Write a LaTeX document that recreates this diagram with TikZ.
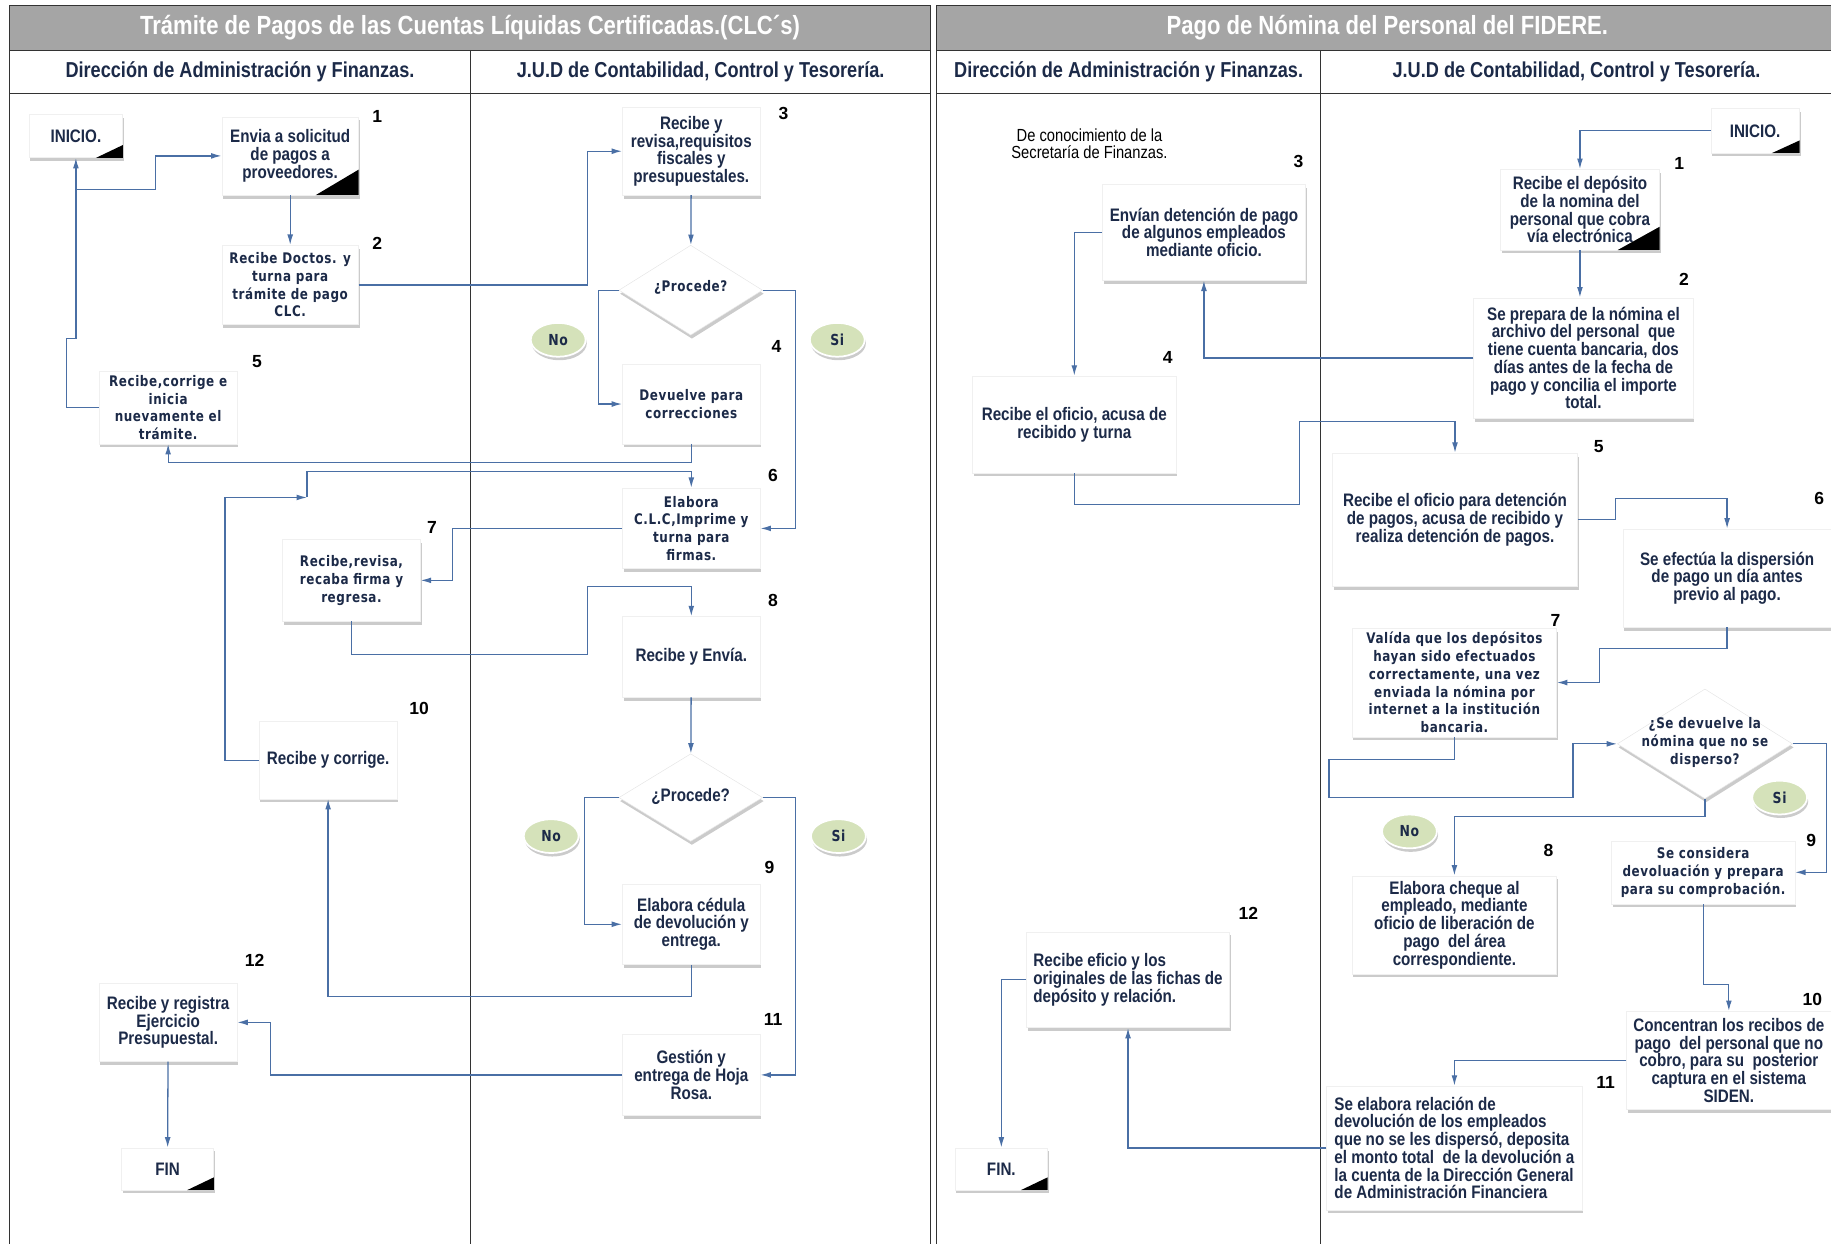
\documentclass[tikz,border=0pt]{standalone}
\usepackage{fontspec}
\setmainfont{Liberation Sans}
\newfontfamily\narrowf[FakeStretch=0.84]{Liberation Sans}
\newfontfamily\widef[FakeStretch=0.82,LetterSpace=4]{DejaVu Sans}
\usetikzlibrary{arrows.meta,shapes.geometric,shadows}
\definecolor{navy}{HTML}{1C2A48}
\definecolor{flowblue}{HTML}{4A6FA5}
\definecolor{headgray}{HTML}{A5A5A5}
\definecolor{okgreen}{HTML}{D5E2BA}
\tikzset{
  softshadow/.style={drop shadow={shadow xshift=1pt,shadow yshift=-3pt,fill=black!45,opacity=0.45}},
  box/.style 2 args={fill=white,draw=black!6,inner sep=1pt,align=center,text=navy,
    minimum width=#1pt,minimum height=#2pt,softshadow},
  nt/.style={font=\narrowf\bfseries\fontsize{15.5}{15.2}\selectfont},
  wt/.style={font=\widef\bfseries\fontsize{12.5}{15.2}\selectfont},
  dia/.style 2 args={diamond,fill=white,draw=black!10,inner sep=0pt,minimum width=#1pt,minimum height=#2pt,softshadow},
  answer/.style={ellipse,fill=okgreen,draw=white,line width=1.5pt,minimum width=47pt,minimum height=29pt,
    inner sep=0pt,text=navy,font=\widef\bfseries\fontsize{13}{13}\selectfont,softshadow},
  num/.style={font=\bfseries\fontsize{15}{15}\selectfont,text=black},
  note/.style={align=center,text=black,font=\narrowf\fontsize{15}{15.2}\selectfont},
  headtext/.style={text=white,font=\narrowf\bfseries\fontsize{22.5}{22.5}\selectfont},
  lanetext/.style={text=navy,font=\narrowf\bfseries\fontsize{18.5}{18.5}\selectfont},
  lane/.style={draw=black!80,line width=1pt},
  flow/.style={draw=flowblue,line width=1.1pt,-{Latex[length=9pt,width=5pt]}},
  corner/.style={fill=black},
}
\begin{document}
\begin{tikzpicture}[x=1pt,y=-1pt]
  \useasboundingbox (0,0) rectangle (1568,1065);
  % marcos de los dos procedimientos
  \fill[headgray] (8,5) rectangle (797,43);
  \fill[headgray] (802,5) rectangle (1575,43);
  \draw[lane] (8,5) rectangle (797,43);
  \draw[lane] (802,5) rectangle (1575,43);
  \draw[lane] (8,43) -- (8,1070) (797,43) -- (797,1070) (8,80) -- (797,80) (403,43) -- (403,1070);
  \draw[lane] (802,43) -- (802,1070) (802,80) -- (1575,80) (1131,43) -- (1131,1070);
  \path
    (402.5,24) node[headtext] (t1) {Trámite de Pagos de las Cuentas Líquidas Certificadas.(CLC´s)}
    (1188,24) node[headtext] (t2) {Pago de Nómina del Personal del FIDERE.}
    (205.5,61.5) node[lanetext] (l1) {Dirección de Administración y Finanzas.}
    (600,61.5) node[lanetext] (l2) {J.U.D de Contabilidad, Control y Tesorería.}
    (966.5,61.5) node[lanetext] (l3) {Dirección de Administración y Finanzas.}
    (1350,61.5) node[lanetext] (l4) {J.U.D de Contabilidad, Control y Tesorería.};
  % CLC
  \path
    (65,116.5) node[box={80}{37},nt] (a0) {INICIO.}
    (248.5,133.5) node[box={117}{67},nt] (a1) {Envia a solicitud\\de pagos a\\proveedores.}
    (248.5,244) node[box={117}{68},wt] (a2) {Recibe Doctos. y\\turna para\\trámite de pago\\CLC.}
    (592,129.5) node[box={118}{75},nt] (a3) {Recibe y\\revisa,requisitos\\fiscales y\\presupuestales.}
    (591.5,248.5) node[dia={123}{77}] (d1) {}
    (592,346) node[box={118}{68},wt] (a4) {Devuelve para\\correcciones}
    (144,349) node[box={118}{62},wt] (a5) {Recibe,corrige e\\inicia\\nuevamente el\\trámite.}
    (592,452.5) node[box={118}{69},wt] (a6) {Elabora\\C.L.C,Imprime y\\turna para\\firmas.}
    (301,497) node[box={118}{70},wt] (a7) {Recibe,revisa,\\recaba firma y\\regresa.}
    (592,562.5) node[box={118}{69},nt] (a8) {Recibe y Envía.}
    (591.5,683) node[dia={123}{75}] (d2) {}
    (592,791.5) node[box={118}{69},nt] (a9) {Elabora cédula\\de devolución y\\entrega.}
    (281,651) node[box={118}{66},nt] (a10) {Recibe y corrige.}
    (592,920.5) node[box={118}{69},nt] (a11) {Gestión y\\entrega de Hoja\\Rosa.}
    (144,875.5) node[box={118}{67},nt] (a12) {Recibe y registra\\Ejercicio\\Presupuestal.}
    (143.5,1001) node[box={79}{36},nt] (a13) {FIN};
  \path
    (591.5,246) node[wt,text=navy] (q1) {¿Procede?}
    (591.5,682) node[nt,text=navy] (q2) {¿Procede?}
    (478,291) node[answer] (no1) {No}
    (717,291) node[answer] (si1) {Si}
    (472,716) node[answer] (no2) {No}
    (718,716) node[answer] (si2) {Si};
  \path
    (323,100) node[num] (na1) {1}
    (323,208) node[num] (na2) {2}
    (671,97) node[num] (na3) {3}
    (665,297) node[num] (na4) {4}
    (220,310) node[num] (na5) {5}
    (662,407) node[num] (na6) {6}
    (370,452) node[num] (na7) {7}
    (662,514) node[num] (na8) {8}
    (659,743) node[num] (na9) {9}
    (359,607) node[num] (na10) {10}
    (662,873) node[num] (na11) {11}
    (218,822) node[num] (na12) {12};
  \fill[corner] (a0.south east) -- ++(0,-11) -- ++(-23,11) -- cycle;
  \fill[corner] (a1.south east) -- ++(0,-22) -- ++(-37,22) -- cycle;
  \fill[corner] (a13.south east) -- ++(0,-11) -- ++(-23,11) -- cycle;
  \coordinate (j0) at (65,162);
  \coordinate (j1) at (263,426);
  \begin{scope}[flow]
    \draw (a5.west) -- ++(-28,0) |- (65,290) -- (a0.south);
    \draw (j0) -| (133,133.5) -- (a1.west);
    \draw (a1) -- (a2);
    \draw (a2.east) -- ++(196,0) |- (a3.west);
    \draw (a3) -- (d1);
    \draw (d1.west) -- ++(-17,0) |- (a4.west);
    \draw (a4.south) -- ++(0,16) -| (a5.south);
    \draw (d1.east) -- ++(28,0) |- (a6.east);
    \draw (a10.west) -- ++(-29,0) |- (j1);
    \draw (j1) -- ++(0,-22) -| (a6.north);
    \draw (a6.west) -- ++(-145,0) |- (a7.east);
    \draw (a7.south) -- ++(0,28) -| (503,502) -| (a8.north);
    \draw (a8) -- (d2);
    \draw (d2.west) -- ++(-29,0) |- (a9.west);
    \draw (a9.south) -- ++(0,27) -| (a10.south);
    \draw (d2.east) -- ++(28,0) |- (a11.east);
    \draw (a11.west) -- ++(-301,0) |- (a12.east);
    \draw (a12) -- (a13);
  \end{scope}
  % nomina
  \path
    (933,123) node[note] (m0) {De conocimiento de la\\Secretaría de Finanzas.}
    (1503,112) node[box={76}{38},nt] (b0) {INICIO.}
    (1353,179.5) node[box={136}{69},nt] (b1) {Recibe el depósito\\de la nomina del\\personal que cobra\\vía electrónica}
    (1356,306.5) node[box={188}{103},nt] (b2) {Se prepara de la nómina el\\archivo del personal~ que\\tiene cuenta bancaria, dos\\días antes de la fecha de\\pago y concilia el importe\\total.}
    (1031,199) node[box={174}{82},nt] (b3) {Envían detención de pago\\de algunos empleados\\mediante oficio.}
    (920,363.5) node[box={174}{83},nt] (b4) {Recibe el oficio, acusa de\\recibido y turna}
    (1246,445) node[box={210}{114},nt] (b5) {Recibe el oficio para detención\\de pagos, acusa de recibido y\\realiza detención de pagos.}
    (1479,495) node[box={178}{84},nt] (b6) {Se efectúa la dispersión\\de pago un día antes\\previo al pago.}
    (1245.5,584.5) node[box={175}{93},wt] (b7) {Valída que los depósitos\\hayan sido efectuados\\correctamente, una vez\\enviada la nómina por\\internet a la institución\\bancaria.}
    (1460,637) node[dia={150}{94}] (d3) {}
    (1245.5,792) node[box={175}{84},nt] (b8) {Elabora cheque al\\empleado, mediante\\oficio de liberación de\\pago~ del área\\correspondiente.}
    (1458.5,747) node[box={157}{54},wt] (b9) {Se considera\\devoluación y prepara\\para su comprobación.}
    (1480.5,908) node[box={175}{84},nt] (b10) {Concentran los recibos de\\pago~ del personal que no\\cobro, para su~ posterior\\captura en el sistema\\SIDEN.}
    (1245.5,983) node[box={219}{106},nt,align=left] (b11) {Se elabora relación de\\devolución de los empleados\\que no se les dispersó, deposita\\el monto total~ de la devolución a\\la cuenta de la Dirección General\\de Administración Financiera}
    (966,839) node[box={174}{82},nt,align=left] (b12) {Recibe eficio y los\\originales de las fichas de\\depósito y relación.}
    (857.5,1001) node[box={79}{36},nt] (b13) {FIN.};
  \path
    (1460,636) node[wt,text=navy,align=center] (q3) {¿Se devuelve la\\nómina que no se\\disperso?}
    (1207,712) node[answer] (no3) {No}
    (1524,683) node[answer] (si3) {Si};
  \path
    (1438,140) node[num] (nb1) {1}
    (1442,239) node[num] (nb2) {2}
    (1112,138) node[num] (nb3) {3}
    (1000,306) node[num] (nb4) {4}
    (1369,382) node[num] (nb5) {5}
    (1558,427) node[num] (nb6) {6}
    (1332,531) node[num] (nb7) {7}
    (1326,728) node[num] (nb8) {8}
    (1551,720) node[num] (nb9) {9}
    (1552,856) node[num] (nb10) {10}
    (1375,927) node[num] (nb11) {11}
    (1069,782) node[num] (nb12) {12};
  \fill[corner] (b0.south east) -- ++(0,-11) -- ++(-24,11) -- cycle;
  \fill[corner] (b1.south east) -- ++(0,-20) -- ++(-36,20) -- cycle;
  \fill[corner] (b13.south east) -- ++(0,-11) -- ++(-23,11) -- cycle;
  \begin{scope}[flow]
    \draw (b0.west) -| (b1.north);
    \draw (b1.south) -- (b1.south |- b2.north);
    \draw (b2.west) -| (b3.south);
    \draw (b3.west) -| (b4.north);
    \draw (b4.south) -- ++(0,27) -| (1113,361) -| (b5.north);
    \draw (b5.east) -- ++(32,0) -- ++(0,-18) -| (b6.north);
    \draw (b6.south) -- ++(0,18) -| (1370,584.5) -- (b7.east);
    \draw (b7.south) -- ++(0,19) -| (1138,683) -| (1347,637) -- (d3.west);
    \draw (d3.south) -- ++(0,15) -| (b8.north);
    \draw (d3.east) -- ++(29,0) |- (b9.east);
    \draw (b9.south) -- ++(0,69) -| (b10.north);
    \draw (b10.west) -| (b11.north);
    \draw (b11.west) -| (b12.south);
    \draw (b12.west) -| (b13.north);
  \end{scope}
\end{tikzpicture}
\end{document}
